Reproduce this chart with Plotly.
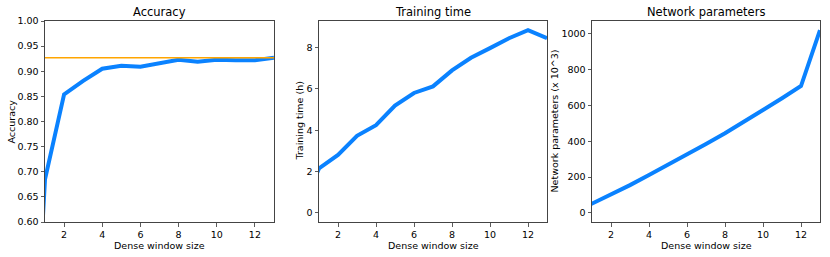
import plotly.graph_objects as go

window = [0, 1, 2, 3, 4, 5, 6, 7, 8, 9, 10, 11, 12, 13]
accuracy = [0.0, 0.685, 0.854, 0.881, 0.905, 0.911, 0.909, 0.916, 0.923, 0.919, 0.923, 0.922, 0.922, 0.927]
baseline_accuracy = 0.927
train_time = [0.0, 2.15, 2.80, 3.73, 4.24, 5.19, 5.80, 6.12, 6.89, 7.50, 7.97, 8.45, 8.84, 8.45]
params = [0, 50, 100, 155, 212, 268, 327, 384, 444, 508, 574, 640, 708, 1020]

titles = ["Accuracy", "Training time", "Network parameters"]
ytitles = ["Accuracy", "Training time (h)", "Network parameters (x 10^3)"]
xtitle = "Dense window size"
xticks = [2, 4, 6, 8, 10, 12]

W, H = 830, 257
FONT = "DejaVu Sans"
BLUE = "#0A82FF"
ORANGE = "#FFA500"

panels_px = [(45, 274), (319, 547), (592, 820)]
top_px, bot_px = 21, 222
ydom = [1 - bot_px / H, 1 - top_px / H]

fig = go.Figure()

series = [accuracy, train_time, params]
for i, ys in enumerate(series):
    ax = "" if i == 0 else str(i + 1)
    fig.add_trace(go.Scatter(x=window, y=ys, mode="lines",
                             line=dict(color=BLUE, width=4),
                             xaxis="x" + ax, yaxis="y" + ax, showlegend=False))

fig.add_trace(go.Scatter(x=[window[1], window[-1]], y=[baseline_accuracy, baseline_accuracy],
                         mode="lines", line=dict(color=ORANGE, width=1.6),
                         xaxis="x", yaxis="y", showlegend=False))

yranges = [[0.6, 1.0], [-0.442, 9.282], [-51, 1071]]
ytickvals = [
    [0.60, 0.65, 0.70, 0.75, 0.80, 0.85, 0.90, 0.95, 1.00],
    [0, 2, 4, 6, 8],
    [0, 200, 400, 600, 800, 1000],
]
ytickfmt = [".2f", "d", "d"]

axcommon = dict(showline=True, linecolor="#444", linewidth=1, mirror=True,
                ticks="outside", ticklen=3.5, tickwidth=0.8, tickcolor="#333",
                showgrid=False, zeroline=False, automargin=False,
                tickfont=dict(family=FONT, size=9.5, color="#000"))

layout = dict(width=W, height=H, margin=dict(l=0, r=0, t=0, b=0, pad=0),
              paper_bgcolor="white", plot_bgcolor="white",
              font=dict(family=FONT, color="#000"))

annotations = []
for i, (l, r) in enumerate(panels_px):
    ax = "" if i == 0 else str(i + 1)
    layout["xaxis" + ax] = dict(domain=[l / W, r / W], range=[1, 13], tickvals=xticks,
                                anchor="y" + ax, **axcommon)
    layout["yaxis" + ax] = dict(domain=ydom, range=yranges[i], tickvals=ytickvals[i],
                                tickformat=ytickfmt[i], anchor="x" + ax, **axcommon)
    cx = (l + r) / 2 / W
    annotations.append(dict(text=titles[i], x=cx, y=1 - 12 / H, xref="paper", yref="paper",
                            showarrow=False, xanchor="center", yanchor="middle",
                            font=dict(family=FONT, size=11.5, color="#000")))
    annotations.append(dict(text=xtitle, x=cx, y=1 - 245 / H, xref="paper", yref="paper",
                            showarrow=False, xanchor="center", yanchor="middle",
                            font=dict(family=FONT, size=9.5, color="#000")))

ytitle_x = [11, 299, 554]
for i, t in enumerate(ytitles):
    annotations.append(dict(text=t, x=ytitle_x[i] / W, y=1 - 121.5 / H, xref="paper", yref="paper",
                            showarrow=False, xanchor="center", yanchor="middle", textangle=-90,
                            font=dict(family=FONT, size=9.5, color="#000")))

layout["annotations"] = annotations
fig.update_layout(**layout)
fig.write_html("out.html",
               config={"displayModeBar": False, "staticPlot": True},
               post_script="document.documentElement.style.margin='0';"
                           "document.documentElement.style.padding='0';"
                           "document.body.style.margin='0';document.body.style.padding='0';"
                           "document.body.style.overflow='hidden';")
